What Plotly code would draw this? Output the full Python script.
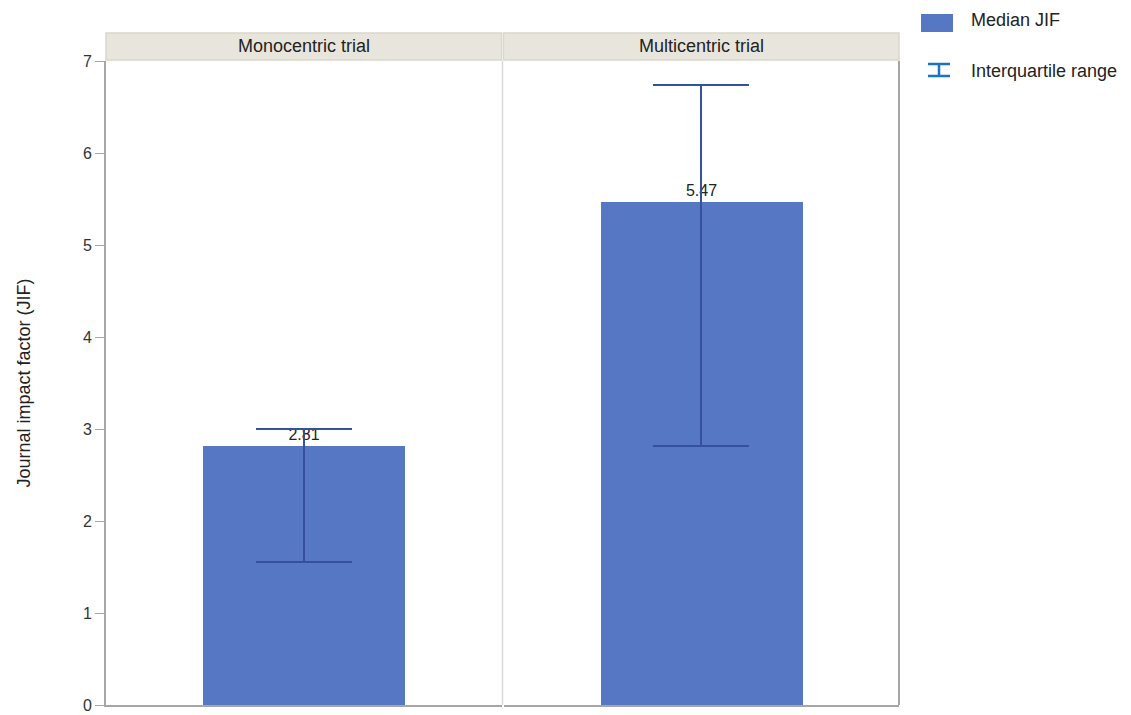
import plotly.graph_objects as go
from plotly.subplots import make_subplots

panels = ["Monocentric trial", "Multicentric trial"]
median_jif = [2.81, 5.47]
q1 = [1.55, 2.81]
q3 = [3.00, 6.74]
y_ticks = [0, 1, 2, 3, 4, 5, 6, 7]

BAR = "#5677C4"
ERR = "#34509E"
FONT = "Liberation Sans, Arial, sans-serif"

W, H = 1131, 715
L, R, T, B = 106, 232, 61, 10
pw = W - L - R


def px_x(x):
    return (x - L) / pw


def px_y(y):
    return (H - B - y) / (H - T - B)


fig = make_subplots(rows=1, cols=2, horizontal_spacing=2 / pw, shared_yaxes=True)

for i, name in enumerate(panels):
    fig.add_trace(go.Bar(
        x=[0], y=[median_jif[i]], width=0.51,
        marker=dict(color=BAR, line=dict(width=0)),
        text=[f"{median_jif[i]:.2f}"], textposition="outside",
        textfont=dict(size=16, color="#222222", family=FONT),
        cliponaxis=False,
        error_y=dict(type="data", symmetric=False,
                     array=[q3[i] - median_jif[i]],
                     arrayminus=[median_jif[i] - q1[i]],
                     color=ERR, thickness=2, width=48),
        showlegend=False, name="Median JIF",
    ), row=1, col=i + 1)

for c in (1, 2):
    fig.update_xaxes(range=[-0.5, 0.5], showticklabels=False, ticks="",
                     showgrid=False, zeroline=False, showline=True, automargin=False,
                     linecolor="#A6A6A6", linewidth=2, row=1, col=c)
fig.update_yaxes(range=[0, 7], tickvals=y_ticks, showgrid=False, zeroline=False,
                 row=1, col=1, showline=True, linecolor="#A6A6A6", linewidth=2,
                 ticks="outside", ticklen=9, tickcolor="#A6A6A6", tickwidth=1,
                 ticklabeloverflow="allow", automargin=False,
                 tickfont=dict(size=16, color="#333333", family=FONT),
                 title=dict(text="Journal impact factor (JIF)", standoff=48,
                            font=dict(size=18, color="#222222", family=FONT)))
fig.update_yaxes(range=[0, 7], showgrid=False, zeroline=False, showticklabels=False,
                 ticks="", automargin=False, row=1, col=2)

shapes = []
ann = []
# strip headers
dom1 = fig.layout.xaxis.domain
dom2 = fig.layout.xaxis2.domain
for dom, name in ((dom1, panels[0]), (dom2, panels[1])):
    shapes.append(dict(type="rect", xref="paper", yref="paper",
                       x0=dom[0], x1=dom[1], y0=px_y(60), y1=px_y(33),
                       fillcolor="#E8E6DC", line=dict(color="#D9D7CA", width=1.5)))
    ann.append(dict(xref="paper", yref="paper", x=(dom[0] + dom[1]) / 2, y=px_y(46.5),
                    text=name, showarrow=False, xanchor="center", yanchor="middle",
                    font=dict(size=18, color="#222222", family=FONT)))
# divider and right border
shapes.append(dict(type="line", xref="paper", yref="paper",
                   x0=(dom1[1] + dom2[0]) / 2, x1=(dom1[1] + dom2[0]) / 2, y0=0, y1=1,
                   line=dict(color="#DADADA", width=1.5)))
shapes.append(dict(type="line", xref="paper", yref="paper",
                   x0=1, x1=1, y0=0, y1=1, line=dict(color="#A6A6A6", width=2)))

# legend (manual)
shapes.append(dict(type="rect", xref="paper", yref="paper",
                   x0=px_x(921), x1=px_x(953), y0=px_y(32), y1=px_y(14),
                   fillcolor=BAR, line=dict(width=0)))
LEG = "#1A73C4"
shapes.append(dict(type="line", xref="paper", yref="paper",
                   x0=px_x(939), x1=px_x(939), y0=px_y(77), y1=px_y(64),
                   line=dict(color=LEG, width=2.5)))
shapes.append(dict(type="line", xref="paper", yref="paper",
                   x0=px_x(928), x1=px_x(950), y0=px_y(64), y1=px_y(64),
                   line=dict(color=LEG, width=2.5)))
shapes.append(dict(type="line", xref="paper", yref="paper",
                   x0=px_x(928), x1=px_x(950), y0=px_y(76), y1=px_y(76),
                   line=dict(color=LEG, width=2.5)))
ann.append(dict(xref="paper", yref="paper", x=px_x(969), y=px_y(20), text="Median JIF",
                showarrow=False, xanchor="left", yanchor="middle",
                font=dict(size=18, color="#222222", family=FONT)))
ann.append(dict(xref="paper", yref="paper", x=px_x(969), y=px_y(71), text="Interquartile range",
                showarrow=False, xanchor="left", yanchor="middle",
                font=dict(size=18, color="#222222", family=FONT)))

fig.update_layout(width=W, height=H, margin=dict(l=L, r=R, t=T, b=B),
                  plot_bgcolor="white", paper_bgcolor="white",
                  shapes=shapes, annotations=ann, showlegend=False,
                  bargap=0)
fig.write_html("out.html")
